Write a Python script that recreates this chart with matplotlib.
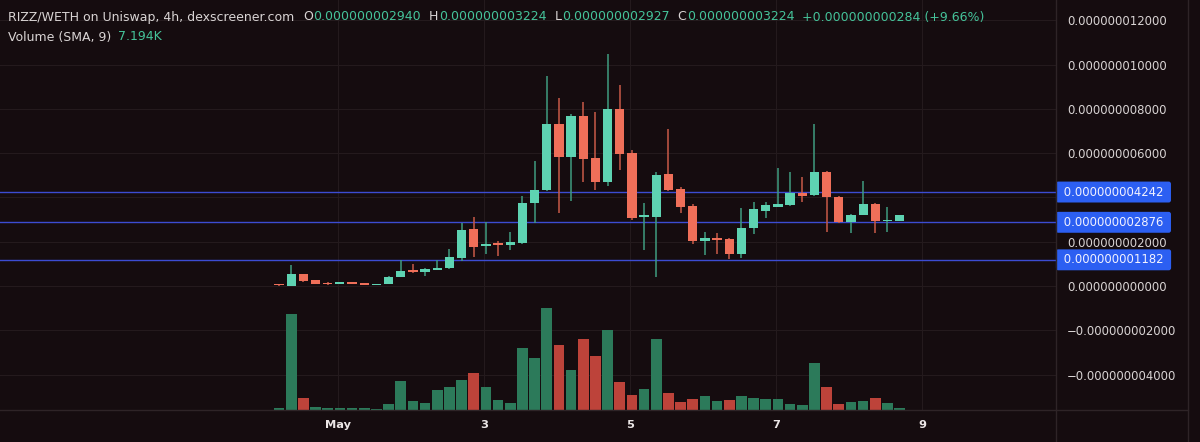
import numpy as np
import matplotlib
matplotlib.use('Agg')
import matplotlib.pyplot as plt
from matplotlib.ticker import FuncFormatter
from matplotlib.lines import Line2D

# Colors
BG = '#150c0f'
GRID = '#241a1d'
SEP = '#2e2427'
UP = '#5ed3b2'
DOWN = '#ef6f59'
UP_WICK = '#3f9c80'
DOWN_WICK = '#c85a48'
VOL_UP = '#2c7a5a'
VOL_DOWN = '#bd433a'
LEVEL = '#3c4cd2'
LEVEL_BOX = '#2c5ff2'
TXT = '#d9d4d4'
TEAL = '#45c39a'

# 4h candles, prices in units of 1e-9 WETH
opens = [0.05, 0.02, 0.54, 0.27, 0.12, 0.10, 0.14, 0.12, 0.05, 0.09, 0.42, 0.72, 0.63,
         0.72, 0.80, 1.28, 2.56, 1.80, 1.92, 1.85, 1.96, 3.73, 4.33, 7.33, 5.84, 7.69,
         5.76, 4.70, 8.00, 5.99, 3.10, 3.13, 5.04, 4.36, 3.60, 2.03, 2.17, 2.12, 1.43,
         2.60, 3.40, 3.58, 3.64, 4.21, 4.11, 5.16, 4.03, 2.87, 3.22, 3.72, 2.92, 2.94]
highs = [0.06, 0.93, 0.56, 0.28, 0.16, 0.15, 0.16, 0.13, 0.09, 0.43, 1.17, 0.98, 0.80,
         1.17, 1.66, 2.83, 3.13, 2.90, 2.05, 2.45, 4.08, 5.66, 9.49, 8.47, 7.77, 8.32,
         7.87, 10.47, 9.07, 6.14, 3.73, 5.16, 7.07, 4.45, 3.70, 2.44, 2.38, 2.15, 3.51,
         3.81, 3.81, 5.31, 5.13, 4.93, 7.31, 5.18, 4.06, 3.25, 4.75, 3.75, 3.55, 3.224]
lows = [0.02, 0.00, 0.18, 0.08, 0.05, 0.09, 0.10, 0.04, 0.04, 0.08, 0.40, 0.60, 0.45,
        0.70, 0.78, 1.14, 1.30, 1.44, 1.37, 1.63, 1.90, 2.86, 4.30, 3.28, 3.85, 4.71,
        4.33, 4.51, 5.24, 3.00, 1.63, 0.42, 4.30, 3.31, 1.90, 1.40, 1.44, 1.20, 1.28,
        2.35, 3.06, 3.55, 3.60, 3.79, 4.05, 2.45, 2.85, 2.38, 3.20, 2.41, 2.45, 2.927]
closes = [0.03, 0.54, 0.23, 0.10, 0.08, 0.13, 0.11, 0.05, 0.08, 0.42, 0.69, 0.63, 0.76,
          0.83, 1.32, 2.53, 1.77, 1.90, 1.84, 2.00, 3.73, 4.33, 7.33, 5.84, 7.69, 5.72,
          4.70, 8.00, 5.96, 3.06, 3.20, 5.01, 4.32, 3.57, 2.02, 2.17, 2.08, 1.43, 2.63,
          3.46, 3.64, 3.69, 4.20, 4.08, 5.16, 4.00, 2.87, 3.22, 3.72, 2.92, 2.94, 3.224]

# volume in thousands, and bar colour as shown (1 = green)
volume = [1.1, 52.5, 6.6, 1.8, 1.1, 1.1, 0.9, 0.9, 0.4, 3.4, 15.7, 4.8, 4.0, 10.9, 12.7,
          16.4, 20.1, 12.7, 5.6, 3.7, 33.7, 28.3, 55.8, 35.7, 21.9, 38.8, 29.7, 43.9,
          15.5, 8.2, 11.5, 38.8, 9.5, 4.4, 6.0, 7.5, 4.8, 5.6, 7.5, 6.4, 6.2, 6.2, 3.4,
          2.6, 25.7, 12.4, 3.1, 4.2, 4.9, 6.7, 3.8, 1.3]
vol_up = [1, 1, 0, 1, 1, 1, 1, 1, 1, 1, 1, 1, 1, 1, 1, 1, 0, 1, 1, 1, 1, 1, 1, 0, 1, 0,
          0, 1, 0, 0, 1, 1, 0, 0, 0, 1, 1, 0, 1, 1, 1, 1, 1, 1, 1, 0, 0, 1, 1, 0, 1, 1]

# horizontal levels drawn on the chart
levels = [4.242, 2.876, 1.182]

# date ticks (candle index of midnight) and labels
date_pos = [4.85, 16.85, 28.85, 40.85, 52.85]
date_labels = ['May', '3', '5', '7', '9']
price_ticks = [-4, -2, 0, 2, 4, 6, 8, 10, 12]
hidden_ticks = [4]

o = np.array(opens)
h = np.array(highs)
l = np.array(lows)
c = np.array(closes)
x = np.arange(len(o))
up = c >= o

fig = plt.figure(figsize=(12, 4.42), dpi=100)
fig.patch.set_facecolor(BG)
rect = [0, 32 / 442, 1056 / 1200, 410 / 442]

# base axes: grid and tick labels
ax = fig.add_axes(rect)
ax.set_facecolor(BG)
ax.set_xlim(-22.93, 63.85)
ax.set_ylim(-5.598, 12.912)
ax.yaxis.tick_right()
ax.set_yticks(price_ticks)


def fmt_price(v, pos):
    if round(v) in hidden_ticks:
        return ''
    return f"{v * 1e-9:.12f}".replace('-', '\u2212')


ax.yaxis.set_major_formatter(FuncFormatter(fmt_price))
ax.set_xticks(date_pos)
ax.set_xticklabels(date_labels, fontweight='bold', fontsize=8.2, color='#ebe6e6')
ax.tick_params(axis='y', length=0, pad=7.9, labelsize=8.4, labelcolor=TXT)
ax.tick_params(axis='x', length=0, pad=7)
ax.grid(True, color=GRID, linewidth=0.8)
for s in ax.spines.values():
    s.set_visible(False)

# volume overlay
ax_v = fig.add_axes(rect, sharex=ax)
ax_v.set_ylim(0, 224)
ax_v.axis('off')
ax_v.bar(x, volume, width=0.88,
         color=[VOL_UP if u else VOL_DOWN for u in vol_up], zorder=2)

# candles
ax_c = fig.add_axes(rect, sharex=ax, sharey=ax)
ax_c.axis('off')
ax_c.vlines(x[up], l[up], h[up], color=UP_WICK, linewidth=1.1, zorder=3)
ax_c.vlines(x[~up], l[~up], h[~up], color=DOWN_WICK, linewidth=1.1, zorder=3)
body_lo = np.minimum(o, c)
body_h = np.maximum(np.abs(c - o), 0.06)
ax_c.bar(x[up], body_h[up], bottom=body_lo[up], width=0.76, color=UP, zorder=4)
ax_c.bar(x[~up], body_h[~up], bottom=body_lo[~up], width=0.76, color=DOWN, zorder=4)

for lv in levels:
    ax_c.axhline(lv, color=LEVEL, linewidth=1.0, zorder=2)
    ax_c.annotate(f" {lv * 1e-9:.12f} ", xy=(1, lv), xycoords=('axes fraction', 'data'),
                  xytext=(2.8, 0), textcoords='offset points', ha='left', va='center',
                  fontsize=8.4, color='#f2f2ff', annotation_clip=False,
                  bbox=dict(boxstyle='round,pad=0.34,rounding_size=0.2',
                            facecolor=LEVEL_BOX, edgecolor='none'))

# panel separators
fig.add_artist(Line2D([1056 / 1200, 1056 / 1200], [0, 1], color=SEP, linewidth=1))
fig.add_artist(Line2D([1188 / 1200, 1188 / 1200], [0, 1], color=SEP, linewidth=1))
fig.add_artist(Line2D([0, 1188 / 1200], [32 / 442, 32 / 442], color=SEP, linewidth=1))

# header lines with coloured values
renderer = fig.canvas.get_renderer()


def write_line(parts, x0, y):
    xp = x0
    for text, color, gap in parts:
        t = fig.text(xp / 1200, y, text, color=color, fontsize=9,
                     ha='left', va='center')
        bb = t.get_window_extent(renderer)
        xp = bb.x1 + gap


write_line([
    ('RIZZ/WETH on Uniswap, 4h, dexscreener.com', TXT, 9),
    ('O', TXT, 0.5), ('0.000000002940', TEAL, 8),
    ('H', TXT, 0.5), ('0.000000003224', TEAL, 8),
    ('L', TXT, 0.5), ('0.000000002927', TEAL, 8),
    ('C', TXT, 0.5), ('0.000000003224', TEAL, 8),
    ('+0.000000000284 (+9.66%)', TEAL, 0),
], 8, 1 - 17 / 442)
write_line([
    ('Volume (SMA, 9)', TXT, 7),
    ('7.194K', TEAL, 0),
], 8, 1 - 37 / 442)

fig.savefig('out.png', dpi=100, facecolor=BG)
